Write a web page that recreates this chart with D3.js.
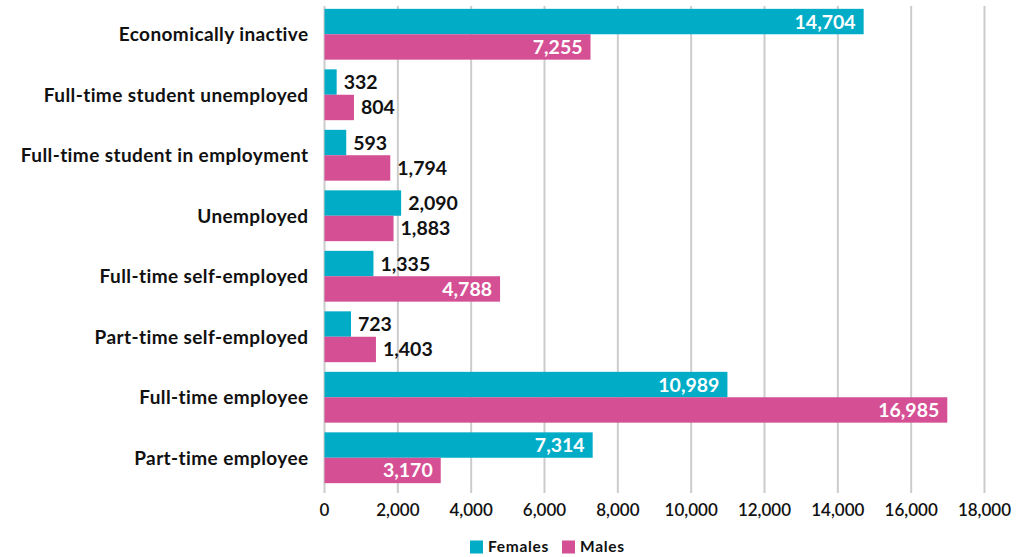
<!DOCTYPE html>
<html>
<head>
<meta charset="utf-8">
<script src="https://cdn.jsdelivr.net/npm/d3@7"></script>
<style>
  html, body { margin: 0; padding: 0; background: #fff; }
  svg { display: block; font-family: Lato, "Open Sans", sans-serif; }
</style>
</head>
<body>
<svg id="chart" width="1034" height="557"></svg>
<script>
// Economic activity by sex
const categories = [
  "Economically inactive",
  "Full-time student unemployed",
  "Full-time student in employment",
  "Unemployed",
  "Full-time self-employed",
  "Part-time self-employed",
  "Full-time employee",
  "Part-time employee"
];
const females = [14704, 332, 593, 2090, 1335, 723, 10989, 7314];
const males   = [7255, 804, 1794, 1883, 4788, 1403, 16985, 3170];
const seriesNames = ["Females", "Males"];
const seriesColors = ["#00acc6", "#d54f94"];
const xTicks = [0, 2000, 4000, 6000, 8000, 10000, 12000, 14000, 16000, 18000];

const svg = d3.select("#chart");
const fmt = d3.format(",");

const x = d3.scaleLinear().domain([0, 18000]).range([324.5, 984.5]);
const y = d3.scaleBand().domain(categories).range([4, 488])
  .paddingInner(0.16).paddingOuter(0.08);
const sub = d3.scaleBand().domain(seriesNames).range([0, y.bandwidth()]);

// vertical gridlines
svg.append("g").selectAll("line").data(xTicks).join("line")
  .attr("x1", d => x(d)).attr("x2", d => x(d))
  .attr("y1", 6).attr("y2", 493)
  .attr("stroke", "#cccccc").attr("stroke-width", 2);

// x tick labels
svg.append("g").selectAll("text").data(xTicks).join("text")
  .attr("x", d => x(d)).attr("y", 516)
  .attr("text-anchor", "middle")
  .attr("font-size", 17).attr("font-weight", 600).attr("fill", "#111")
  .text(d => fmt(d));

// category labels
svg.append("g").selectAll("text").data(categories).join("text")
  .attr("x", 308.5).attr("y", d => y(d) + y.bandwidth() / 2 + 7)
  .attr("text-anchor", "end")
  .attr("font-size", 19).attr("font-weight", 700).attr("fill", "#111")
  .attr("letter-spacing", 0.4)
  .text(d => d);

const rows = [];
categories.forEach((c, i) => {
  rows.push({ cat: c, series: "Females", value: females[i], color: seriesColors[0] });
  rows.push({ cat: c, series: "Males", value: males[i], color: seriesColors[1] });
});

const bars = svg.append("g");
bars.selectAll("rect").data(rows).join("rect")
  .attr("x", x(0))
  .attr("y", d => y(d.cat) + sub(d.series))
  .attr("width", d => x(d.value) - x(0))
  .attr("height", sub.bandwidth())
  .attr("fill", d => d.color);

// value labels: inside long bars, beside short ones
bars.selectAll("text").data(rows).join("text")
  .attr("x", d => d.value >= 3000 ? x(d.value) - 8 : x(d.value) + 7)
  .attr("y", d => y(d.cat) + sub(d.series) + sub.bandwidth() / 2 + 7)
  .attr("text-anchor", d => d.value >= 3000 ? "end" : "start")
  .attr("font-size", 19.5).attr("font-weight", 700)
  .attr("fill", d => d.value >= 3000 ? "#fff" : "#111")
  .text(d => fmt(d.value));

// legend
const legend = svg.append("g");
const legendX = [470, 562];
seriesNames.forEach((name, i) => {
  legend.append("rect")
    .attr("x", legendX[i]).attr("y", 540.5)
    .attr("width", 13).attr("height", 13)
    .attr("fill", seriesColors[i]);
  legend.append("text")
    .attr("x", legendX[i] + 18).attr("y", 552)
    .attr("font-size", 15.5).attr("font-weight", 700).attr("fill", "#111")
    .attr("letter-spacing", 0.7)
    .text(name);
});
</script>
</body>
</html>
